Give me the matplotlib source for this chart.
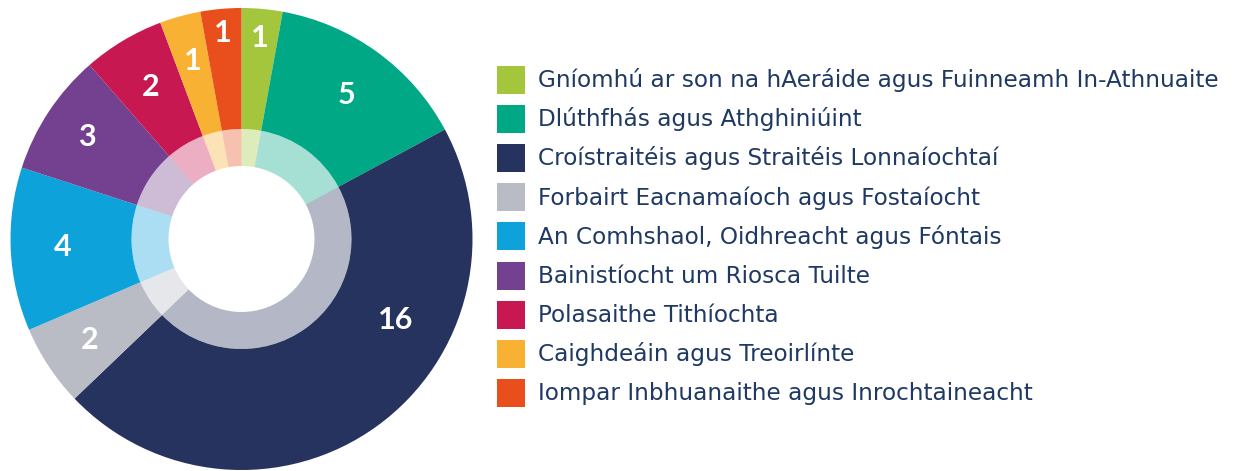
import numpy as np
import matplotlib
matplotlib.use("Agg")
import matplotlib.pyplot as plt
from matplotlib.patches import Rectangle

# categories and counts, clockwise from the top
categories = [
    "Gníomhú ar son na hAeráide agus Fuinneamh In-Athnuaite",
    "Dlúthfhás agus Athghiniúint",
    "Croístraitéis agus Straitéis Lonnaíochtaí",
    "Forbairt Eacnamaíoch agus Fostaíocht",
    "An Comhshaol, Oidhreacht agus Fóntais",
    "Bainistíocht um Riosca Tuilte",
    "Polasaithe Tithíochta",
    "Caighdeáin agus Treoirlínte",
    "Iompar Inbhuanaithe agus Inrochtaineacht",
]
counts = [1, 5, 16, 2, 4, 3, 2, 1, 1]

colors = ["#A3C63C", "#00A886", "#25335E", "#B9BCC4", "#0EA2DB",
          "#73418F", "#C71852", "#F8B133", "#E94E1D"]

# where the number labels sit (fraction of outer radius) and angle tweak in degrees
label_r = [0.875, 0.77, 0.755, 0.79, 0.775, 0.80, 0.765, 0.80, 0.895]
label_dang = [0, 0, 26.4, 0, 0, 0, 0, 0, 0]

W, H = 1233, 471
fig = plt.figure(figsize=(W / 100, H / 100), dpi=100)

cx, cy, R = 241.5, 239, 231
ax = fig.add_axes([(cx - R) / W, (H - cy - R) / H, 2 * R / W, 2 * R / H])

r_mid = 110 / R
r_hole = 73 / R

wedges, _ = ax.pie(counts, radius=1, colors=colors, startangle=90, counterclock=False,
                   wedgeprops=dict(width=1 - r_mid, edgecolor="none"))
ax.pie(counts, radius=r_mid, colors=colors, startangle=90, counterclock=False,
       wedgeprops=dict(width=r_mid - r_hole, edgecolor="none", alpha=0.35))
ax.set_xlim(-1, 1)
ax.set_ylim(-1, 1)
ax.set_aspect("equal")
ax.axis("off")

for w, n, r, da in zip(wedges, counts, label_r, label_dang):
    a = np.deg2rad((w.theta1 + w.theta2) / 2 + da)
    ax.text(r * np.cos(a), r * np.sin(a), str(n), color="white", fontsize=22,
            fontweight="bold", family="Lato", ha="center", va="center")

# legend drawn by hand
x_box, box = 497, 28
y0, dy = 80, 39.1
for i, (lab, c) in enumerate(zip(categories, colors)):
    yc = y0 + i * dy
    fig.add_artist(Rectangle(((x_box) / W, (H - yc - box / 2) / H), box / W, box / H,
                             transform=fig.transFigure, facecolor=c, edgecolor="none"))
    fig.text(538 / W, (H - yc - 7.3) / H, lab, color="#1F3963", fontsize=16.7,
             family="DejaVu Sans", ha="left", va="baseline")

fig.savefig("out.png", dpi=100)
